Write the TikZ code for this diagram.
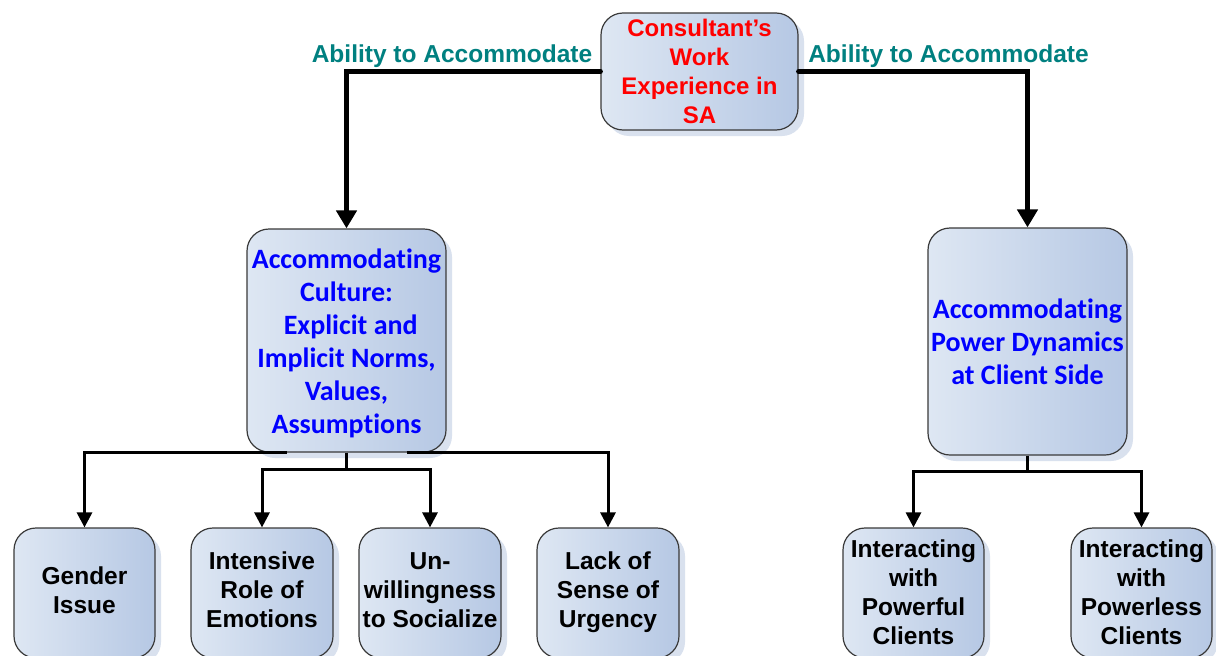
\documentclass[tikz,border=0pt]{standalone}
\usepackage{fontspec}
\setmainfont{Liberation Sans}
\newfontfamily\calibri[Ligatures={NoCommon,NoContextual}]{Carlito}
\usetikzlibrary{arrows.meta,shadows,calc}
\definecolor{boxL}{HTML}{DEE7F3}
\definecolor{boxR}{HTML}{B6C8E4}
\definecolor{boxEdge}{HTML}{3A3A3A}
\definecolor{shadowc}{HTML}{D9E1EE}
\definecolor{teal}{RGB}{0,128,128}
\newcommand{\lift}[2]{\raisebox{#1}[\height][\depth]{\begin{tabular}{@{}c@{}}#2\end{tabular}}}
\tikzset{
  box/.style={draw=boxEdge, line width=1.2pt, rounded corners=22pt,
    left color=boxL, right color=boxR, align=center, inner sep=0pt,
    general shadow={fill=shadowc, shadow xshift=6pt, shadow yshift=-6pt}},
  blacktxt/.style={font=\bfseries\fontsize{24.5}{29}\selectfont, text=black},
  redtxt/.style={font=\bfseries\fontsize{24}{29}\selectfont, text=red},
  bluetxt/.style={font=\calibri\bfseries\fontsize{28}{33}\selectfont, text=blue},
  lbl/.style={font=\bfseries\fontsize{24.5}{29}\selectfont, text=teal, inner sep=0pt},
  bigarr/.style={line width=5pt, -{Triangle[length=18pt,width=20pt]}},
  smallarr/.style={line width=3pt, -{Triangle[length=15pt,width=15pt]}},
  plainline/.style={line width=3pt},
}
\begin{document}
\begin{tikzpicture}[x=1pt,y=-1pt]
\useasboundingbox (0,0) rectangle (1216,656);
\clip (0,0) rectangle (1216,656);
\fill[white] (0,0) rectangle (1216,656);

\node[box, redtxt, minimum width=197pt, minimum height=117pt] (top) at (699.5,71.5)
  {Consultant’s\\Work\\Experience in\\SA};
\node[box, bluetxt, minimum width=199pt, minimum height=223pt] (culture) at (346.5,340.5)
  {\lift{-4pt}{Accommodating\\Culture:\\\hspace{0.3em}Explicit and\\Implicit Norms,\\Values,\\Assumptions}};
\node[box, bluetxt, minimum width=199pt, minimum height=227pt] (power) at (1027.5,341.5)
  {Accommodating\\Power Dynamics\\at Client Side};

\node[box, blacktxt, minimum width=141pt, minimum height=130pt] (gender) at (84.5,593)
  {\lift{0pt}{Gender\\Issue}};
\node[box, blacktxt, minimum width=142pt, minimum height=130pt] (intense) at (262,593)
  {\lift{0pt}{Intensive\\Role of\\Emotions}};
\node[box, blacktxt, minimum width=142pt, minimum height=130pt] (unwill) at (430,593)
  {\lift{0pt}{Un-\\willingness\\to Socialize}};
\node[box, blacktxt, minimum width=142pt, minimum height=130pt] (lack) at (608,593)
  {\lift{0pt}{Lack of\\Sense of\\Urgency}};
\node[box, blacktxt, minimum width=141pt, minimum height=130pt] (powerful) at (913.5,593)
  {\lift{-2pt}{Interacting\\with\\Powerful\\Clients}};
\node[box, blacktxt, minimum width=141pt, minimum height=130pt] (powerless) at (1141.5,593)
  {\lift{-2pt}{Interacting\\with\\Powerless\\Clients}};

\node[lbl] (lblL) at (452,56) {Ability to Accommodate};
\node[lbl] (lblR) at (948.5,56) {Ability to Accommodate};

\draw[bigarr, line cap=round] (top.west) -| (culture.north);
\draw[bigarr, line cap=round] (top.east) -| (power.north);

\coordinate (cl) at ([xshift=-60pt]culture.south);
\coordinate (cr) at ([xshift=60pt]culture.south);
\coordinate (cj) at ($(culture.south)+(0,17)$);
\draw[smallarr] (cl) -| (gender.north);
\draw[smallarr] (cr) -| (lack.north);
\draw[plainline] (culture.south) -- (cj);
\draw[smallarr] (cj) -| (intense.north);
\draw[smallarr] (cj) -| (unwill.north);

\coordinate (pj) at ($(power.south)+(0,16)$);
\draw[plainline] (power.south) -- (pj);
\draw[smallarr] (pj) -| (powerful.north);
\draw[smallarr] (pj) -| (powerless.north);
\end{tikzpicture}
\end{document}
